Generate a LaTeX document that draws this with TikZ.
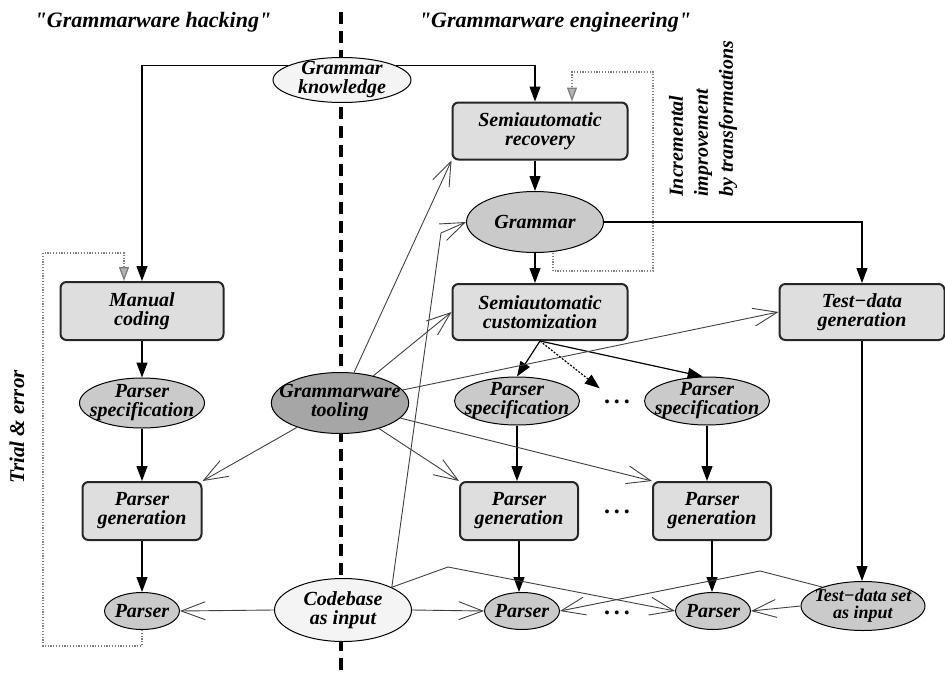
\documentclass[tikz,border=0pt]{standalone}
\usepackage{fontspec}
\setmainfont{Liberation Serif}[Ligatures=TeXOff]
\usetikzlibrary{arrows.meta,shapes.geometric}
\definecolor{boxfill}{HTML}{DEDEDE}
\definecolor{ellfill}{HTML}{CACACA}
\definecolor{darkfill}{HTML}{A6A6A6}
\definecolor{lightfill}{HTML}{F4F4F4}
\definecolor{loopgray}{HTML}{808080}
\definecolor{barbgray}{HTML}{404040}
\newcommand{\etcdots}{.\kern4pt.\kern4pt.}

\begin{document}
\begin{tikzpicture}[x=1pt, y=-1pt,
  lbl/.style={font=\fontsize{20}{19}\selectfont\bfseries\itshape, align=center},
  task/.style={lbl, draw=black!85, line width=2pt, fill=boxfill, rounded corners=6pt},
  artefact/.style={lbl, ellipse, draw, line width=1pt, fill=ellfill, inner xsep=-12pt, inner ysep=-4pt},
  flow/.style={line width=1.2pt, -{Triangle[length=15pt,width=11pt]}},
  feed/.style={line width=0.9pt, draw=barbgray, -{Straight Barb[length=24pt,width=18pt]}},
  loop/.style={loopgray, line width=1.3pt, dash pattern=on 1.2pt off 1.6pt, -{Triangle[length=14pt,width=10pt,fill=loopgray!60]}},
  etc/.style={font=\fontsize{24}{19}\selectfont\bfseries, inner sep=0pt}]
  \useasboundingbox (0,0) rectangle (945,677);
  % Divider
  \draw[line width=4pt, dash pattern=on 12pt off 7pt] (341,12) -- (341,677);
  % Headings
  \node[lbl, font=\fontsize{22}{24}\selectfont\bfseries\itshape] (hack) at (153,22) {"Grammarware hacking"};
  \node[lbl, font=\fontsize{22}{24}\selectfont\bfseries\itshape] (eng) at (555,22) {"Grammarware engineering"};
  \node[lbl, rotate=90, align=left, inner sep=0pt, font=\fontsize{20}{25}\selectfont\bfseries\itshape, anchor=west] (incr) at (703,197) {Incremental\\improvement\\by transformations};
  \node[lbl, rotate=90, inner sep=0pt, font=\fontsize{21}{24}\selectfont\bfseries\itshape] (trial) at (17,427) {Trial \& error};
  % Shared nodes
  \node[artefact, fill=lightfill, minimum width=138pt, minimum height=45pt] (gk) at (342,80) {Grammar\\knowledge};
  \node[artefact, fill=darkfill, minimum width=136pt, minimum height=61pt] (tool) at (340,403) {Grammarware\\tooling};
  \node[artefact, fill=lightfill, minimum width=137pt, minimum height=63pt] (cb) at (343,610) {Codebase\\as input};
  % Hacking column
  \node[task, minimum width=163pt, minimum height=58pt] (mc) at (142,311) {Manual\\coding};
  \node[artefact, minimum width=125pt, minimum height=50pt] (ps1) at (142,403) {Parser\\specification};
  \node[task, minimum width=119pt, minimum height=58pt] (pg1) at (142,511) {Parser\\generation};
  \node[artefact, minimum width=75pt, minimum height=37pt] (par1) at (142,611) {Parser};
  % Engineering columns
  \node[task, minimum width=175pt, minimum height=57pt] (sr) at (540,131) {Semiautomatic\\recovery};
  \node[artefact, minimum width=137pt, minimum height=61pt] (gram) at (535,222) {Grammar};
  \node[task, minimum width=175pt, minimum height=56pt] (sc) at (540,312) {Semiautomatic\\customization};
  \node[task, minimum width=165pt, minimum height=56pt] (tdg) at (862,312) {Test−data\\generation};
  \node[artefact, minimum width=125pt, minimum height=48pt] (ps2) at (517,401) {Parser\\specification};
  \node[artefact, minimum width=125pt, minimum height=48pt] (ps3) at (707,401) {Parser\\specification};
  \node[task, minimum width=118pt, minimum height=58pt] (pg2) at (519,511) {Parser\\generation};
  \node[task, minimum width=118pt, minimum height=58pt] (pg3) at (712,511) {Parser\\generation};
  \node[artefact, minimum width=75pt, minimum height=37pt] (par2) at (522,611) {Parser};
  \node[artefact, minimum width=75pt, minimum height=37pt] (par3) at (713,611) {Parser};
  \node[artefact, font=\fontsize{18}{17}\selectfont\bfseries\itshape, minimum width=124pt, minimum height=49pt] (tds) at (863,606) {Test−data set\\as input};
  \node[etc] (dots1) at (617,402) {\etcdots};
  \node[etc] (dots2) at (617,512) {\etcdots};
  \node[etc] (dots3) at (617,613) {\etcdots};
  % Main flow
  \draw[flow] (gk.165) -| (mc.north);
  \draw[flow] (gk.15) -| (gram |- sr.north);
  \draw[flow] (gram |- sr.south) -- (gram.north);
  \draw[flow] (gram.south) -- (gram |- sc.north);
  \draw[flow] (gram.east) -| (tdg.north);
  \draw[flow] (mc.south) -- (ps1.north);
  \draw[flow] (ps1.south) -- (pg1.north);
  \draw[flow] (pg1.south) -- (par1.north);
  \draw[flow] (sc.south) -- (ps2.north);
  \draw[flow] (sc.south) -- (ps3.100);
  \draw[flow, dash pattern=on 2pt off 1.5pt, shorten >=22pt] (sc.south) -- (dots1.center);
  \draw[flow] (ps2.south) -- (ps2.south |- pg2.north);
  \draw[flow] (ps3.south) -- (ps3.south |- pg3.north);
  \draw[flow] (pg2.south) -- (pg2.south |- par2.north);
  \draw[flow] (pg3.south) -- (pg3.south |- par3.north);
  \draw[flow] (tdg.south) -- (tdg.south |- tds.north);
  % Feedback loops
  \coordinate (rloop) at (653,72);
  \coordinate (lloop) at (43,253);
  \draw[loop] ([xshift=18pt]gram.south) -- ++(0,18) -| (rloop) -| ([xshift=32pt]sr.north);
  \draw[loop] (par1.south) -- ++(0,16) -| (lloop) -| ([xshift=-18pt]mc.north);
  % Tooling
  \draw[feed] (tool) -- (sr.south west);
  \draw[feed] (tool) -- (sc.west);
  \draw[feed] (tool) -- (tdg.west);
  \draw[feed] (tool) -- (pg1.north east);
  \draw[feed] (tool) -- (pg2.north west);
  \draw[feed] (tool) -- (pg3.north west);
  % Inputs
  \coordinate (cbkink) at (441,233);
  \coordinate (cbbend) at (448,567);
  \coordinate (tdsbend) at (760,571);
  \draw[feed] (cb.north east) -- (cbkink) -- (gram.west);
  \draw[feed] (cb.west) -- (par1.east);
  \draw[feed] (cb.east) -- (par2.west);
  \draw[feed] (cb.25) -- (cbbend) -- (par3.west);
  \draw[feed] (tds.west) -- (par3.east);
  \draw[feed] (tds.155) -- (tdsbend) -- (par2.east);
\end{tikzpicture}
\end{document}
